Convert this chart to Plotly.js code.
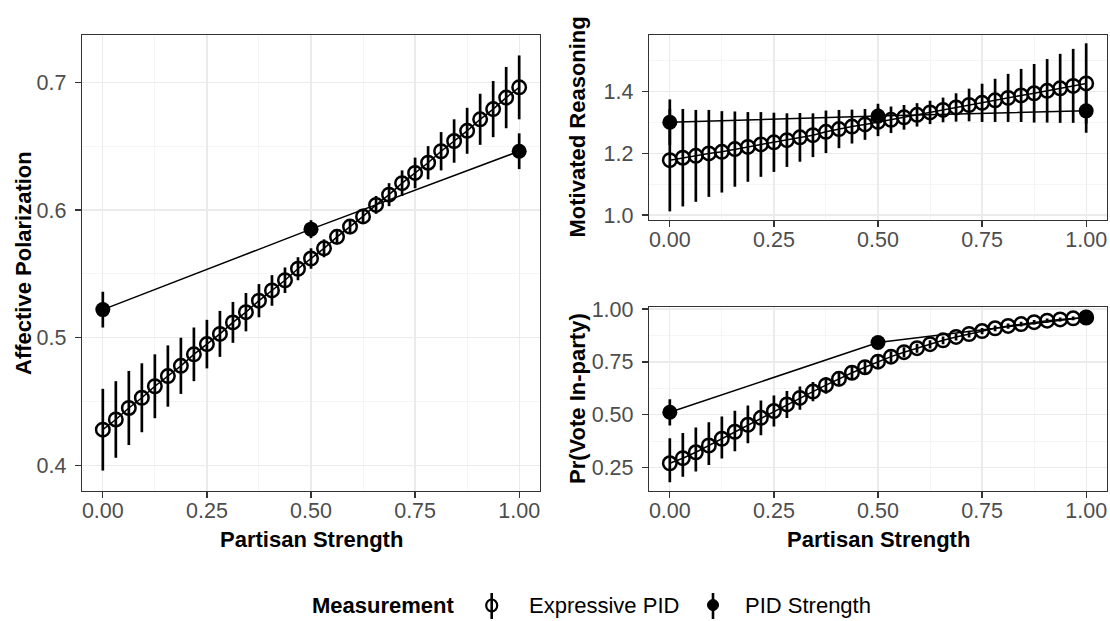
<!DOCTYPE html>
<html>
<head>
<meta charset="utf-8">
<script src="https://cdn.plot.ly/plotly-3.0.1.min.js"></script>
<style>html,body{margin:0;padding:0;background:#fff;}#chart{width:1110px;height:621px;}</style>
</head>
<body>
<div id="chart"></div>
<script>
// ---------------- DATA ----------------
var strengthExpressive = [0, 0.03125, 0.0625, 0.09375, 0.125, 0.15625, 0.1875, 0.21875, 0.25, 0.28125, 0.3125, 0.34375, 0.375, 0.40625, 0.4375, 0.46875, 0.5, 0.53125, 0.5625, 0.59375, 0.625, 0.65625, 0.6875, 0.71875, 0.75, 0.78125, 0.8125, 0.84375, 0.875, 0.90625, 0.9375, 0.96875, 1];
var strengthPID = [0, 0.5, 1];

// Affective Polarization
var apExpressive = [0.428, 0.436, 0.445, 0.453, 0.462, 0.470, 0.478, 0.487, 0.495, 0.503, 0.512, 0.520, 0.529, 0.537, 0.545, 0.554, 0.562, 0.570, 0.579, 0.587, 0.595, 0.604, 0.612, 0.621, 0.629, 0.637, 0.646, 0.654, 0.662, 0.671, 0.679, 0.688, 0.696];
var apExpressiveErr = [0.032, 0.030, 0.029, 0.027, 0.025, 0.024, 0.022, 0.021, 0.019, 0.018, 0.016, 0.015, 0.013, 0.012, 0.010, 0.009, 0.008, 0.007, 0.006, 0.006, 0.006, 0.007, 0.009, 0.010, 0.012, 0.013, 0.015, 0.017, 0.018, 0.020, 0.022, 0.024, 0.025];
var apPID = [0.522, 0.585, 0.646];
var apPIDErr = [0.014, 0.007, 0.014];

// Motivated Reasoning
var mrExpressive = [1.178, 1.186, 1.192, 1.200, 1.205, 1.214, 1.221, 1.229, 1.236, 1.243, 1.252, 1.259, 1.270, 1.279, 1.287, 1.294, 1.302, 1.309, 1.317, 1.325, 1.333, 1.341, 1.349, 1.357, 1.364, 1.372, 1.380, 1.388, 1.395, 1.403, 1.411, 1.419, 1.427];
var mrExpressiveErr = [0.166, 0.158, 0.149, 0.141, 0.132, 0.122, 0.113, 0.105, 0.096, 0.087, 0.079, 0.071, 0.069, 0.062, 0.055, 0.050, 0.046, 0.043, 0.040, 0.038, 0.038, 0.040, 0.046, 0.053, 0.062, 0.070, 0.078, 0.086, 0.095, 0.103, 0.112, 0.120, 0.130];
var mrPID = [1.301, 1.321, 1.338];
var mrPIDErr = [0.074, 0.040, 0.071];

// Pr(Vote In-party)
var voteExpressive = [0.271, 0.295, 0.323, 0.355, 0.387, 0.420, 0.453, 0.486, 0.518, 0.549, 0.580, 0.610, 0.640, 0.670, 0.699, 0.725, 0.751, 0.775, 0.796, 0.815, 0.834, 0.852, 0.868, 0.882, 0.896, 0.909, 0.920, 0.929, 0.938, 0.945, 0.951, 0.956, 0.960];
var voteExpressiveErrUp = [0.118, 0.119, 0.117, 0.110, 0.105, 0.099, 0.091, 0.082, 0.073, 0.064, 0.054, 0.045, 0.039, 0.035, 0.032, 0.029, 0.027, 0.025, 0.023, 0.021, 0.019, 0.018, 0.016, 0.015, 0.014, 0.013, 0.012, 0.011, 0.010, 0.010, 0.009, 0.009, 0.008];
var voteExpressiveErrDown = [0.090, 0.088, 0.091, 0.092, 0.093, 0.092, 0.087, 0.082, 0.073, 0.064, 0.056, 0.046, 0.040, 0.036, 0.033, 0.030, 0.028, 0.026, 0.024, 0.022, 0.020, 0.018, 0.017, 0.016, 0.015, 0.014, 0.013, 0.012, 0.011, 0.010, 0.010, 0.009, 0.009];
var votePID = [0.512, 0.842, 0.961];
var votePIDErr = [0.062, 0.015, 0.008];

var seriesNames = ['Expressive PID', 'PID Strength'];
var legendTitle = 'Measurement';
var xTitle = 'Partisan Strength';
var yTitles = ['Affective Polarization', 'Motivated Reasoning', 'Pr(Vote In-party)'];

// ---------------- STYLE / LAYOUT ----------------
var W = 1110, H = 621;
function px(x){ return x / W; }
function py(y){ return 1 - y / H; }
var FONT = 'Liberation Sans, Arial, Helvetica, sans-serif';

function expTrace(y, errUp, errDown, xa, ya){
  var e = {type:'data', array:errUp, visible:true, color:'black', thickness:2.7, width:0};
  if (errDown) { e.symmetric = false; e.arrayminus = errDown; }
  return {
    x: strengthExpressive, y: y, xaxis: xa, yaxis: ya, name: seriesNames[0],
    type:'scatter', mode:'lines+markers', showlegend:false, cliponaxis:false,
    line:{color:'black', width:1.5},
    marker:{symbol:'circle-open', size:13.5, color:'black', line:{width:2.5, color:'black'}},
    error_y: e
  };
}
function pidTrace(y, err, xa, ya){
  return {
    x: strengthPID, y: y, xaxis: xa, yaxis: ya, name: seriesNames[1],
    type:'scatter', mode:'lines+markers', showlegend:false, cliponaxis:false,
    line:{color:'black', width:1.5},
    marker:{symbol:'circle', size:15, color:'black'},
    error_y:{type:'data', array:err, visible:true, color:'black', thickness:2.7, width:0}
  };
}

var data = [
  expTrace(apExpressive, apExpressiveErr, null, 'x', 'y'),
  pidTrace(apPID, apPIDErr, 'x', 'y'),
  expTrace(mrExpressive, mrExpressiveErr, null, 'x2', 'y2'),
  pidTrace(mrPID, mrPIDErr, 'x2', 'y2'),
  expTrace(voteExpressive, voteExpressiveErrUp, voteExpressiveErrDown, 'x3', 'y3'),
  pidTrace(votePID, votePIDErr, 'x3', 'y3')
];

function axisBase(extra){
  var a = {
    showline:true, mirror:true, linecolor:'#333333', linewidth:1.2,
    ticks:'outside', ticklen:6, tickwidth:1.2, tickcolor:'#333333',
    showgrid:true, gridcolor:'#EBEBEB', gridwidth:1.3, zeroline:false,
    tickfont:{family:FONT, size:21.5, color:'#4D4D4D'},
    ticklabelstandoff:4,
    automargin:false, fixedrange:true
  };
  for (var k in extra) a[k] = extra[k];
  return a;
}
function xAxis(dom, anchor){
  return axisBase({domain:dom, anchor:anchor, range:[-0.05, 1.05], tick0:0, dtick:0.25, tickformat:'.2f',
    ticklabelstandoff:-6,
    minor:{dtick:0.125, showgrid:true, gridcolor:'#F3F3F3', gridwidth:0.8, ticks:''}});
}

var xL = [px(82), px(540)], xR = [px(649), px(1107)];
var layout = {
  width:W, height:H, margin:{l:0, r:0, t:0, b:0},
  paper_bgcolor:'white', plot_bgcolor:'white', showlegend:false,
  font:{family:FONT, color:'black'},
  xaxis: xAxis(xL, 'y'),
  yaxis: axisBase({domain:[py(491), py(35)], anchor:'x', range:[0.380, 0.737], tick0:0, dtick:0.1, tickformat:'.1f',
    minor:{dtick:0.05, showgrid:true, gridcolor:'#F3F3F3', gridwidth:0.8, ticks:''}}),
  xaxis2: xAxis(xR, 'y2'),
  yaxis2: axisBase({domain:[py(220), py(35)], anchor:'x2', range:[0.984, 1.584], tick0:1, dtick:0.2, tickformat:'.1f',
    minor:{dtick:0.1, showgrid:true, gridcolor:'#F3F3F3', gridwidth:0.8, ticks:''}}),
  xaxis3: xAxis(xR, 'y3'),
  yaxis3: axisBase({domain:[py(491), py(306.7)], anchor:'x3', range:[0.140, 1.011], tick0:0, dtick:0.25, tickformat:'.2f',
    minor:{dtick:0.125, showgrid:true, gridcolor:'#F3F3F3', gridwidth:0.8, ticks:''}}),
  annotations: [],
  shapes: []
};

var titleFont = {family:FONT, size:22, color:'black'};
function ann(text, x, y, opts){
  var a = {text:text, x:x, y:y, xref:'paper', yref:'paper', showarrow:false, font:titleFont, xanchor:'center', yanchor:'middle'};
  for (var k in opts) a[k] = opts[k];
  layout.annotations.push(a);
}
// axis titles
ann('<b>' + xTitle + '</b>', px(311), py(539));
ann('<b>' + xTitle + '</b>', px(878), py(539));
ann('<b>' + yTitles[0] + '</b>', px(23), py(263), {textangle:-90});
ann('<b>' + yTitles[1] + '</b>', px(577), py(127.5), {textangle:-90});
ann('<b>' + yTitles[2] + '</b>', px(577), py(399), {textangle:-90});

// legend
var legY = 605;
ann('<b>' + legendTitle + '</b>', px(457), py(legY), {xanchor:'right'});
ann(seriesNames[0], px(527), py(legY), {xanchor:'left', font:{family:FONT, size:22, color:'black'}});
ann(seriesNames[1], px(743), py(legY), {xanchor:'left', font:{family:FONT, size:22, color:'black'}});
var g1 = 491.7, g2 = 713;
layout.shapes.push({type:'line', xref:'paper', yref:'paper', x0:px(g1), x1:px(g1), y0:py(593), y1:py(619), line:{color:'black', width:2.6}});
layout.shapes.push({type:'circle', xref:'paper', yref:'paper', x0:px(g1-5.5), x1:px(g1+5.5), y0:py(legY+6.5), y1:py(legY-5.5), line:{color:'black', width:2.2}, fillcolor:'rgba(0,0,0,0)'});
layout.shapes.push({type:'line', xref:'paper', yref:'paper', x0:px(g2), x1:px(g2), y0:py(593), y1:py(619), line:{color:'black', width:2.6}});
layout.shapes.push({type:'circle', xref:'paper', yref:'paper', x0:px(g2-5.5), x1:px(g2+5.5), y0:py(legY+5.5), y1:py(legY-5.5), line:{color:'black', width:1}, fillcolor:'black'});

Plotly.newPlot('chart', data, layout, {displayModeBar:false, staticPlot:true});
</script>
</body>
</html>
